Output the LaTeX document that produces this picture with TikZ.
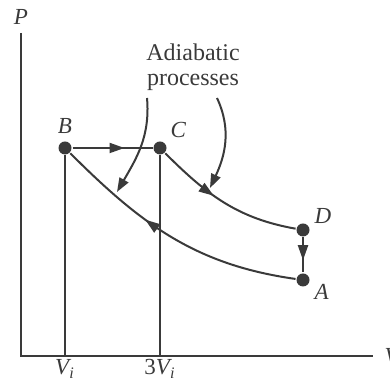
\documentclass[tikz,border=0pt]{standalone}
\usepackage{fontspec}
\setmainfont{Liberation Serif}
\usetikzlibrary{arrows.meta,decorations.markings}
\definecolor{ink}{HTML}{3A3A3A}
\begin{document}
\begin{tikzpicture}[x=0.5pt,y=0.5pt,line width=1pt,
  state/.style={circle,fill=ink,inner sep=0pt,minimum size=6.5pt},
  lbl/.style={font=\fontsize{11.5}{13}\selectfont\itshape,text=ink},
  midarrow/.style={postaction={decorate},
    decoration={markings,mark=at position #1 with {\arrow{Triangle[length=7.5pt,width=5pt]}}}}]
  \useasboundingbox (0,0) rectangle (390,383);

  % axes
  \coordinate (O) at (21,27);
  \coordinate (Ptop) at (21,350);
  \coordinate (Vend) at (373,27);
  \coordinate (Vi) at (65,27);
  \coordinate (V3) at (160,27);
  \draw[ink] (Ptop) -- (O) -- (Vend);
  \node[lbl] (Plabel) at (21,366) {P};
  \node[lbl,anchor=west] (Vlabel) at (377,27) {V};

  % states
  \node[state] (B) at (65,235) {};
  \node[state] (C) at (160,235) {};
  \node[state] (D) at (303,153) {};
  \node[state] (A) at (303,103) {};
  \node[lbl,anchor=south] at (65,242) {B};
  \node[lbl,anchor=south west] at (163,238) {C};
  \node[lbl,anchor=south west] at (307,152) {D};
  \node[lbl,anchor=north west] at (307,106) {A};

  \draw[ink] (B) -- (Vi);
  \draw[ink] (C) -- (V3);
  \node[lbl,anchor=north] at ([yshift=2]Vi) {V\textsubscript{\itshape i}};
  \node[lbl,anchor=north] at ([yshift=2]V3) {\upshape 3\itshape V\textsubscript{\itshape i}};

  % cycle
  \draw[ink,midarrow=0.65] (B) -- (C);
  \draw[ink,midarrow=0.42] (C) to[out=-45,in=170] (D);
  \draw[ink,midarrow=0.65] (D) -- (A);
  \draw[ink,midarrow=0.62] (A) to[out=172,in=-45] (B);

  % note
  \node[text=ink,align=center,font=\fontsize{12}{12.5}\selectfont] (note) at (193,316) {Adiabatic\\processes};
  \coordinate (n1) at (147,285);
  \coordinate (n2) at (217,285);
  \coordinate (t1) at (117,191);
  \coordinate (t2) at (210,195);
  \draw[ink,-{Triangle[length=7pt,width=5pt]}] (n1) to[out=-85,in=60] (t1);
  \draw[ink,-{Triangle[length=7pt,width=5pt]}] (n2) to[out=-65,in=65] (t2);
\end{tikzpicture}
\end{document}
